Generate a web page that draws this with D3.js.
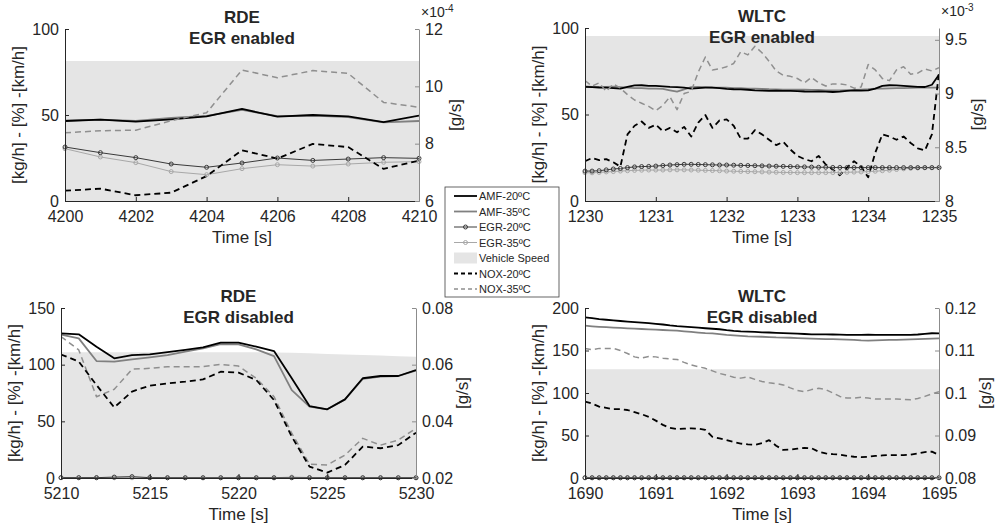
<!DOCTYPE html>
<html><head><meta charset="utf-8">
<script src="https://cdnjs.cloudflare.com/ajax/libs/d3/7.8.5/d3.min.js"></script>
<style>
body{margin:0;background:#fff;}
text{font-family:"Liberation Sans",Arial,sans-serif;fill:#262626;}
</style></head>
<body>
<script>
// ---------- DATA ----------
// RDE, EGR enabled (NOX in ×10^-4 g/s)
const rdeEnTime  = [4200,4201,4202,4203,4204,4205,4206,4207,4208,4209,4210];
const rdeEnAmf20 = [46.5,47.3,46.1,47.5,49.2,53.5,49.0,50.0,49.2,45.9,49.6];
const rdeEnAmf35 = [46.7,47.3,46.5,48.3,49.5,53.0,49.3,49.6,48.8,45.7,46.5];
const rdeEnEgr20 = [31.4,28.1,25.2,21.5,19.6,22.1,25.0,23.6,24.4,25.2,24.8];
const rdeEnEgr35 = [30.4,25.6,22.3,17.1,15.3,18.8,21.1,20.3,21.5,22.5,22.9];
const rdeEnSpeed = [81.4,81.4,81.4,81.4,81.4,81.4,81.4,81.4,81.4,81.4,81.4];
const rdeEnNox20 = [6.36,6.43,6.20,6.29,6.87,7.77,7.48,7.99,7.88,7.12,7.41];
const rdeEnNox35 = [8.38,8.45,8.47,8.80,9.08,10.57,10.30,10.55,10.45,9.44,9.27];

// WLTC, EGR enabled (NOX in ×10^-3 g/s)
const wltcEnTime = [1230,1230.1,1230.2,1230.3,1230.4,1230.5,1230.6,1230.7,1230.8,1230.9,
  1231,1231.1,1231.2,1231.3,1231.4,1231.5,1231.6,1231.7,1231.8,1231.9,
  1232,1232.1,1232.2,1232.3,1232.4,1232.5,1232.6,1232.7,1232.8,1232.9,
  1233,1233.1,1233.2,1233.3,1233.4,1233.5,1233.6,1233.7,1233.8,1233.9,
  1234,1234.1,1234.2,1234.3,1234.4,1234.5,1234.6,1234.7,1234.8,1234.9,1235];
const wltcEnAmf20 = [66.0,65.8,65.6,65.5,65.3,65.0,66.0,66.8,66.9,66.6,
  66.5,66.3,66.0,65.8,65.5,65.0,65.3,65.5,65.5,65.2,
  64.8,64.6,64.5,64.3,64.0,63.8,63.6,63.8,63.7,63.6,
  63.5,63.3,63.2,63.3,63.2,63.0,63.2,63.6,64.0,63.8,
  64.0,65.0,66.5,66.9,66.8,66.6,66.3,66.0,65.9,67.2,73.0];
const wltcEnAmf35 = [66.3,66.0,65.8,66.0,66.1,65.8,65.5,65.3,65.2,65.0,
  65.0,64.8,64.0,63.2,64.5,65.8,66.0,65.8,65.6,65.5,
  65.5,65.3,65.2,65.0,65.0,64.8,64.6,64.5,64.4,64.4,
  64.4,64.3,64.2,64.2,64.0,64.0,64.0,64.1,64.2,64.4,
  64.6,64.9,65.0,65.1,65.2,65.3,65.4,65.5,65.5,65.5,65.5];
const wltcEnEgr20 = [17.3,17.3,17.5,18.0,18.5,18.8,19.3,19.7,19.9,20.0,
  20.2,20.5,20.8,21.0,21.2,21.2,21.1,21.0,20.9,20.8,
  20.8,20.7,20.6,20.5,20.4,20.3,20.2,20.1,20.0,19.9,
  19.8,19.7,19.6,19.5,19.5,19.4,19.4,19.3,19.3,19.3,
  19.3,19.3,19.3,19.3,19.3,19.3,19.3,19.3,19.3,19.3,19.3];
const wltcEnEgr35 = [16.4,16.3,16.5,16.8,17.0,17.3,17.5,17.7,17.8,17.9,
  17.9,17.9,18.0,18.0,18.0,17.9,17.8,17.7,17.6,17.5,
  17.3,17.2,17.1,17.0,16.9,16.8,16.7,16.6,16.5,16.5,
  16.4,16.4,16.4,16.4,16.4,16.4,16.5,16.6,16.7,16.8,
  17.0,17.2,17.5,17.8,18.2,18.6,18.9,19.1,19.2,19.2,19.3];
const wltcEnSpeed = [95.4,95.4,95.4,95.4,95.4,95.4,95.4,95.4,95.4,95.4,
  95.4,95.4,95.4,95.4,95.4,95.4,95.4,95.4,95.4,95.4,
  95.4,95.4,95.4,95.4,95.4,95.4,95.4,95.4,95.4,95.4,
  95.4,95.4,95.4,95.4,95.4,95.4,95.4,95.4,95.4,95.4,
  95.4,95.4,95.4,95.4,95.4,95.4,95.4,95.4,95.4,95.4,95.4];
const wltcEnNox20 = [8.37,8.40,8.38,8.39,8.36,8.32,8.62,8.70,8.74,8.68,
  8.71,8.65,8.68,8.64,8.69,8.60,8.73,8.80,8.68,8.75,
  8.76,8.70,8.58,8.58,8.66,8.62,8.57,8.52,8.55,8.48,
  8.42,8.39,8.37,8.42,8.34,8.29,8.24,8.31,8.37,8.32,
  8.22,8.45,8.62,8.60,8.57,8.60,8.54,8.49,8.47,8.62,9.20];
const wltcEnNox35 = [9.12,9.07,9.10,9.02,9.09,9.05,8.99,8.94,8.91,8.88,
  8.84,8.89,8.97,8.85,9.00,9.02,9.20,9.34,9.22,9.23,
  9.25,9.28,9.39,9.36,9.44,9.38,9.30,9.21,9.17,9.16,
  9.14,9.10,9.15,9.10,9.07,9.09,9.09,9.08,9.05,9.06,
  9.27,9.22,9.14,9.12,9.22,9.25,9.18,9.19,9.23,9.21,9.24];

// RDE, EGR disabled (NOX in g/s)
const rdeDisTime  = [5210,5211,5212,5213,5214,5215,5216,5217,5218,5219,5220,5221,5222,5223,5224,5225,5226,5227,5228,5229,5230];
const rdeDisAmf20 = [127.6,126.8,115.9,105.6,108.5,109.0,111.0,113.0,115.3,119.4,119.4,115.9,112.0,88.0,63.5,60.6,69.4,88.0,90.0,90.0,95.3];
const rdeDisAmf35 = [126.5,123.2,103.2,102.6,104.7,106.5,108.5,111.5,114.4,118.2,117.9,113.5,107.6,77.6,62.9,60.6,69.4,87.4,89.4,90.0,94.7];
const rdeDisEgr20 = [0.3,0.3,0.3,0.8,1.2,0.3,0.2,0.2,0.2,0.2,0.2,0.2,0.2,0.2,0.2,0.2,0.2,0.2,0.2,0.2,0.2];
const rdeDisEgr35 = [0.2,0.2,0.2,0.2,0.2,0.2,0.2,0.2,0.2,0.2,0.2,0.2,0.2,0.8,0.4,0.2,0.2,0.2,0.2,0.2,0.2];
const rdeDisSpeed = [111,111,111,111,111,111,111,111,111,111,111,111,110.8,110.5,110,109.5,109,108.5,108,107.5,107];
const rdeDisNox20 = [0.0636,0.0611,0.0528,0.0449,0.0505,0.0526,0.0534,0.0540,0.0548,0.0575,0.0572,0.0546,0.0475,0.0346,0.0240,0.0219,0.0246,0.0311,0.0305,0.0316,0.0360];
const rdeDisNox35 = [0.0699,0.0652,0.0487,0.0513,0.0584,0.0587,0.0593,0.0593,0.0593,0.0601,0.0595,0.0552,0.0487,0.0358,0.0249,0.0246,0.0281,0.0340,0.0316,0.0334,0.0375];

// WLTC, EGR disabled (NOX in g/s)
const wltcDisTime = [1690,1690.1,1690.2,1690.3,1690.4,1690.5,1690.6,1690.7,1690.8,1690.9,
  1691,1691.1,1691.2,1691.3,1691.4,1691.5,1691.6,1691.7,1691.8,1691.9,
  1692,1692.1,1692.2,1692.3,1692.4,1692.5,1692.6,1692.7,1692.8,1692.9,
  1693,1693.1,1693.2,1693.3,1693.4,1693.5,1693.6,1693.7,1693.8,1693.9,
  1694,1694.1,1694.2,1694.3,1694.4,1694.5,1694.6,1694.7,1694.8,1694.9,1695];
const wltcDisAmf20 = [189,188,187,186.2,185.4,184.7,184,183.4,182.8,182.2,
  181.4,180.6,179.5,178.6,178,177.4,176.8,176.2,175.6,175,
  174,173.2,172.6,172.2,171.8,171.4,171.2,170.8,170.5,170.2,
  169.8,169.4,169,169,169,168.8,168.6,168.4,168.4,168.5,
  168.6,168.5,168.4,168.3,168.3,168.4,168.5,168.8,169.5,170.3,170.2];
const wltcDisAmf35 = [179.2,178.5,177.9,177.4,176.9,176.5,176.1,175.7,175.3,174.9,
  174.5,174.1,173.7,173.3,172.6,171.8,171.1,170.5,170.2,169.3,
  168.4,167.8,167.2,166.7,166.4,166.2,165.8,165.4,165.2,165,
  164.6,164.2,163.9,163.7,163.5,163.3,163.1,162.8,162.4,161.9,
  161.6,161.9,162.2,162.4,162.6,162.8,163.1,163.4,163.7,164,164.3];
const wltcDisEgr20 = [0.3,0.3,0.3,0.3,0.3,0.3,0.3,0.3,0.3,0.3,0.3,0.3,0.3,0.3,0.3,0.3,0.3,0.3,0.3,0.3,0.3,0.3,0.3,0.3,0.3,0.3,0.3,0.3,0.3,0.3,0.3,0.3,0.3,0.3,0.3,0.3,0.3,0.3,0.3,0.3,0.3,0.3,0.3,0.3,0.3,0.3,0.3,0.3,0.3,0.3,0.3];
const wltcDisEgr35 = [0.2,0.2,0.2,0.2,0.2,0.2,0.2,0.2,0.2,0.2,0.2,0.2,0.2,0.2,0.2,0.2,0.2,0.2,0.2,0.2,0.2,0.2,0.2,0.2,0.2,0.2,0.2,0.2,0.2,0.2,0.2,0.2,0.2,0.2,0.2,0.2,0.2,0.2,0.2,0.2,0.2,0.2,0.2,0.2,0.2,0.2,0.2,0.2,0.2,0.2,0.2];
const wltcDisSpeed = [128,128,128,128,128,128,128,128,128,128,128,128,128,128,128,128,128,128,128,128,128,128,128,128,128,128,128,128,128,128,128,128,128,128,128,128,128,128,128,128,128,128,128,128,128,128,128,128,128,128,128];
const wltcDisNox20 = [0.0980,0.0975,0.0968,0.0965,0.0962,0.0962,0.0960,0.0955,0.0950,0.0944,
  0.0935,0.0925,0.0918,0.0915,0.0916,0.0917,0.0916,0.0913,0.0897,0.0893,
  0.0889,0.0885,0.0881,0.0879,0.0878,0.0882,0.0889,0.0876,0.0866,0.0867,
  0.0869,0.0871,0.0870,0.0862,0.0858,0.0856,0.0855,0.0852,0.0850,0.0849,
  0.0850,0.0852,0.0853,0.0854,0.0854,0.0854,0.0855,0.0858,0.0861,0.0862,0.0854];
const wltcDisNox35 = [0.1105,0.1102,0.1105,0.1105,0.1105,0.1100,0.1093,0.1085,0.1082,0.1086,
  0.1085,0.1082,0.1080,0.1079,0.1072,0.1066,0.1062,0.1058,0.1052,0.1046,
  0.1042,0.1037,0.1035,0.1038,0.1032,0.1027,0.1024,0.1022,0.1019,0.1012,
  0.1006,0.1003,0.1008,0.1011,0.1008,0.1000,0.0992,0.0988,0.0988,0.0990,
  0.0988,0.0986,0.0986,0.0986,0.0986,0.0985,0.0984,0.0987,0.0992,0.0998,0.1003];

// Tick labels
const rdeEnXTicks = [4200,4202,4204,4206,4208,4210];
const wltcEnXTicks = [1230,1231,1232,1233,1234,1235];
const rdeDisXTicks = [5210,5215,5220,5225,5230];
const wltcDisXTicks = [1690,1691,1692,1693,1694,1695];
const leftTicks100 = [0,50,100];
const leftTicks150 = [0,50,100,150];
const leftTicks200 = [0,50,100,150,200];
const rdeEnRTicks = [6,8,10,12];
const wltcEnRTicks = [8,8.5,9,9.5];
const rdeDisRTicks = [0.02,0.04,0.06,0.08];
const wltcDisRTicks = [0.08,0.09,0.1,0.11,0.12];

const legendLabels = ["AMF-20ºC","AMF-35ºC","EGR-20ºC","EGR-35ºC","Vehicle Speed","NOX-20ºC","NOX-35ºC"];

// ---------- STYLES ----------
const ST = {
  amf20:{stroke:"#000000",width:1.8,dash:null},
  amf35:{stroke:"#808080",width:1.8,dash:null},
  egr20:{stroke:"#3a3a3a",width:1,dash:null,marker:true},
  egr35:{stroke:"#a8a8a8",width:1,dash:null,marker:true},
  nox20:{stroke:"#000000",width:1.8,dash:"6,4"},
  nox35:{stroke:"#8f8f8f",width:1.5,dash:"6,4"},
  speed:"#e5e5e5"
};

const W=999,H=528;
const svg=d3.select("body").append("svg").attr("width",W).attr("height",H);

let clipId=0;
function panel(o){
  const g=svg.append("g");
  const x=d3.scaleLinear().domain(o.xDom).range([o.l,o.r]);
  const y=d3.scaleLinear().domain(o.yDom).range([o.b,o.t]);
  const yr=d3.scaleLinear().domain(o.rDom).range([o.b,o.t]);
  const id="clip"+(clipId++);
  svg.append("clipPath").attr("id",id).append("rect")
    .attr("x",o.l).attr("y",o.t-2).attr("width",o.r-o.l).attr("height",o.b-o.t+4);
  const pg=g.append("g").attr("clip-path",`url(#${id})`);
  // speed area
  const area=d3.area().x(d=>x(d[0])).y0(y(o.yDom[0])).y1(d=>y(d[1]));
  pg.append("path").datum(d3.zip(o.time,o.speed)).attr("d",area).attr("fill",ST.speed);

  function line(vals,sc,st){
    const data=d3.zip(o.time,vals);
    const ln=d3.line().x(d=>x(d[0])).y(d=>sc(d[1]));
    const p=pg.append("path").datum(data).attr("d",ln).attr("fill","none")
      .attr("stroke",st.stroke).attr("stroke-width",st.width).attr("stroke-linejoin","round");
    if(st.dash) p.attr("stroke-dasharray",st.dash);
    if(st.marker){
      g.append("g").selectAll("circle").data(data).join("circle")
        .attr("cx",d=>x(d[0])).attr("cy",d=>sc(d[1])).attr("r",2)
        .attr("fill","none").attr("stroke",st.stroke).attr("stroke-width",1);
    }
  }
  line(o.egr35,y,ST.egr35);
  line(o.egr20,y,ST.egr20);
  line(o.amf35,y,ST.amf35);
  line(o.amf20,y,ST.amf20);
  line(o.nox35,yr,ST.nox35);
  line(o.nox20,yr,ST.nox20);

  // axes
  const fs="16px";
  const ax=g.append("g").attr("transform",`translate(0,${o.b})`)
    .call(d3.axisBottom(x).tickValues(o.xTicks).tickSize(-4).tickSizeOuter(0).tickPadding(10).tickFormat(d3.format("d")));
  const ay=g.append("g").attr("transform",`translate(${o.l},0)`)
    .call(d3.axisLeft(y).tickValues(o.yTicks).tickSize(-4).tickSizeOuter(0).tickPadding(6).tickFormat(d3.format("d")));
  const ar=g.append("g").attr("transform",`translate(${o.r},0)`)
    .call(d3.axisRight(yr).tickValues(o.rTicks).tickSize(-4).tickSizeOuter(0).tickPadding(6).tickFormat(d=>String(d)));
  [ax,ay,ar].forEach(a=>{
    a.selectAll("text").style("font-size",fs).attr("fill","#262626").style("font-family",'"Liberation Sans",Arial,sans-serif');
  });
  ax.selectAll("path,line").attr("stroke","#262626");
  ay.selectAll("path,line").attr("stroke","#262626");
  ar.selectAll("path,line").attr("stroke","#8c8c8c");

  const cx=(o.l+o.r)/2, cy=(o.t+o.b)/2;
  g.append("text").attr("x",cx).attr("y",o.t-6).attr("text-anchor","middle")
    .style("font-size","17px").style("font-weight","bold").attr("fill","#000").text(o.t1);
  g.append("text").attr("x",cx).attr("y",o.t+15).attr("text-anchor","middle")
    .style("font-size","17px").style("font-weight","bold").attr("fill","#000").text(o.t2);
  g.append("text").attr("x",cx).attr("y",o.b+42).attr("text-anchor","middle")
    .style("font-size","17px").text("Time [s]");
  g.append("text").attr("transform",`translate(${o.l-41},${cy}) rotate(-90)`).attr("text-anchor","middle")
    .style("font-size","17px").text("[kg/h] - [%] -[km/h]");
  g.append("text").attr("transform",`translate(${o.r+o.rl},${cy}) rotate(-90)`).attr("text-anchor","middle")
    .style("font-size","17px").text("[g/s]");
  if(o.exp){
    const t=g.append("text").attr("x",o.r+2).attr("y",o.t-12).style("font-size","14px");
    t.append("tspan").text("×10");
    t.append("tspan").attr("dy",-5).style("font-size","10px").text(o.exp);
  }
}

panel({l:65,r:419,t:29,b:201,xDom:[4200,4210],yDom:[0,100],rDom:[6,12],
  xTicks:rdeEnXTicks,yTicks:leftTicks100,rTicks:rdeEnRTicks,rl:42,exp:"-4",
  time:rdeEnTime,amf20:rdeEnAmf20,amf35:rdeEnAmf35,egr20:rdeEnEgr20,egr35:rdeEnEgr35,
  speed:rdeEnSpeed,nox20:rdeEnNox20,nox35:rdeEnNox35,t1:"RDE",t2:"EGR enabled"});
panel({l:585,r:939,t:28,b:201,xDom:[1230,1235],yDom:[0,100],rDom:[8,9.61],
  xTicks:wltcEnXTicks,yTicks:leftTicks100,rTicks:wltcEnRTicks,rl:44,exp:"-3",
  time:wltcEnTime,amf20:wltcEnAmf20,amf35:wltcEnAmf35,egr20:wltcEnEgr20,egr35:wltcEnEgr35,
  speed:wltcEnSpeed,nox20:wltcEnNox20,nox35:wltcEnNox35,t1:"WLTC",t2:"EGR enabled"});
panel({l:61,r:416,t:308,b:478,xDom:[5210,5230],yDom:[0,150],rDom:[0.02,0.08],
  xTicks:rdeDisXTicks,yTicks:leftTicks150,rTicks:rdeDisRTicks,rl:52,
  time:rdeDisTime,amf20:rdeDisAmf20,amf35:rdeDisAmf35,egr20:rdeDisEgr20,egr35:rdeDisEgr35,
  speed:rdeDisSpeed,nox20:rdeDisNox20,nox35:rdeDisNox35,t1:"RDE",t2:"EGR disabled"});
panel({l:585,r:939,t:308,b:478,xDom:[1690,1695],yDom:[0,200],rDom:[0.08,0.12],
  xTicks:wltcDisXTicks,yTicks:leftTicks200,rTicks:wltcDisRTicks,rl:52,
  time:wltcDisTime,amf20:wltcDisAmf20,amf35:wltcDisAmf35,egr20:wltcDisEgr20,egr35:wltcDisEgr35,
  speed:wltcDisSpeed,nox20:wltcDisNox20,nox35:wltcDisNox35,t1:"WLTC",t2:"EGR disabled"});

// legend
const lg=svg.append("g");
const lx=445, ly=187, lw=114, lh=110, rowH=15.5, row0=196;
lg.append("rect").attr("x",lx).attr("y",ly).attr("width",lw).attr("height",lh)
  .attr("fill","#fff").attr("stroke","#404040").attr("stroke-width",0.8);
const legendStyles=[ST.amf20,ST.amf35,ST.egr20,ST.egr35,null,ST.nox20,ST.nox35];
legendLabels.forEach((lab,i)=>{
  const yy=row0+i*rowH;
  const st=legendStyles[i];
  if(st){
    const l=lg.append("line").attr("x1",lx+9).attr("x2",lx+32).attr("y1",yy).attr("y2",yy)
      .attr("stroke",st.stroke).attr("stroke-width",st.width);
    if(st.dash) l.attr("stroke-dasharray","4,3");
    if(st.marker) lg.append("circle").attr("cx",lx+20.5).attr("cy",yy).attr("r",2)
      .attr("fill","none").attr("stroke",st.stroke);
  } else {
    lg.append("rect").attr("x",lx+9).attr("y",yy-5.5).attr("width",23).attr("height",11).attr("fill",ST.speed);
  }
  lg.append("text").attr("x",lx+34).attr("y",yy+4).style("font-size","11px").attr("fill","#000").text(lab);
});
</script>
</body></html>
